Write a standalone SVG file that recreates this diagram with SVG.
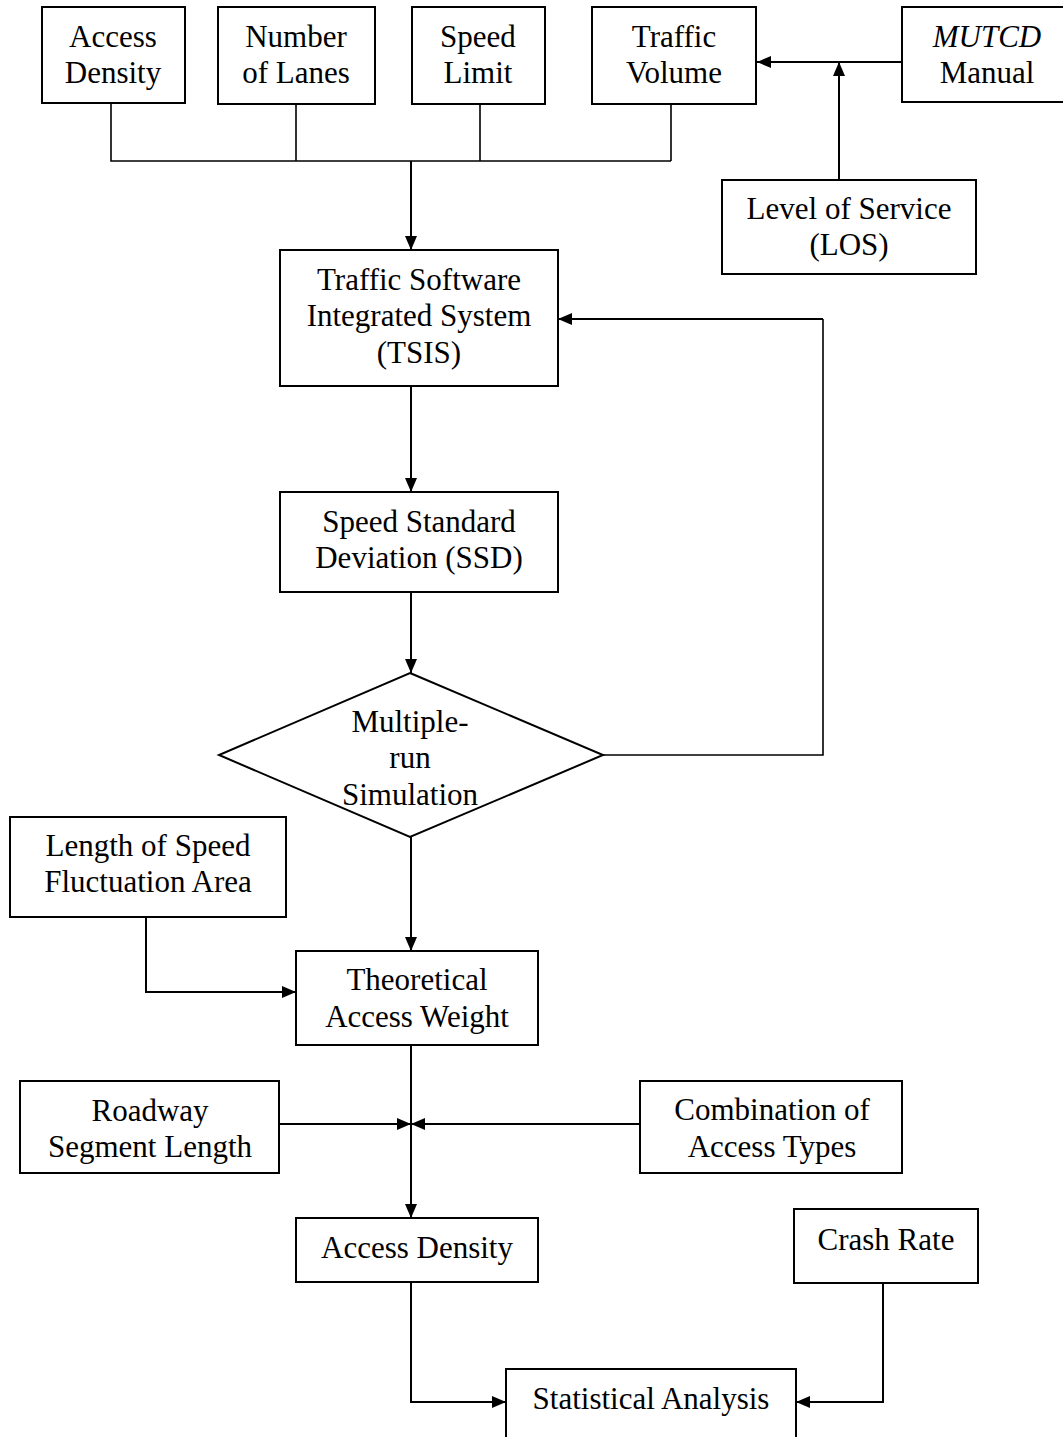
<svg xmlns="http://www.w3.org/2000/svg" width="1063" height="1437" viewBox="0 0 1063 1437">
<style>
.box{fill:#fff;stroke:#000;stroke-width:2}
.t{font-family:"Liberation Serif","Times New Roman",serif;font-size:31px;fill:#000;text-anchor:middle}
.it{font-style:italic}
.ln{fill:none;stroke:#000;stroke-width:1.6}
.ar{fill:none;stroke:#000;stroke-width:2;marker-end:url(#ah)}
</style>
<defs>
<marker id="ah" markerUnits="userSpaceOnUse" markerWidth="14" markerHeight="12" viewBox="0 0 14 12" refX="14" refY="6" orient="auto">
<path d="M0,0 L14,6 L0,12 z" fill="#000"/>
</marker>
</defs>
<rect width="1063" height="1437" fill="#fff"/>
<g id="connectors">
<path class="ln" d="M111,104 V161 H671 M296,104 V161 M480,104 V161 M671,104 V161"/>
<path class="ar" d="M411,161 V250"/>
<path class="ar" d="M902,62 H757"/>
<path class="ar" d="M839,180 V62"/>
<path class="ar" d="M411,386 V492"/>
<path class="ar" d="M411,592 V673"/>
<path class="ln" d="M603,755 H823 V319"/>
<path class="ar" d="M823,319 H558"/>
<path class="ar" d="M411,837 V951"/>
<path class="ar" d="M146,917 V992 H296"/>
<path class="ar" d="M411,1045 V1218"/>
<path class="ar" d="M279,1124 H411"/>
<path class="ar" d="M640,1124 H411"/>
<path class="ar" d="M411,1282 V1402 H506"/>
<path class="ar" d="M883,1284 V1402 H796"/>
</g>
<g id="n-access-density-top"><rect class="box" x="42" y="7" width="143" height="96"/><text class="t" x="113" y="47">Access</text><text class="t" x="113" y="83">Density</text></g>
<g id="n-lanes"><rect class="box" x="218" y="7" width="157" height="97"/><text class="t" x="296" y="47">Number</text><text class="t" x="296" y="83">of Lanes</text></g>
<g id="n-speed-limit"><rect class="box" x="412" y="7" width="133" height="97"/><text class="t" x="478" y="47">Speed</text><text class="t" x="478" y="83">Limit</text></g>
<g id="n-traffic-volume"><rect class="box" x="592" y="7" width="164" height="97"/><text class="t" x="674" y="47">Traffic</text><text class="t" x="674" y="83">Volume</text></g>
<g id="n-mutcd"><rect class="box" x="902" y="7" width="165" height="95"/><text class="t it" x="987" y="47">MUTCD</text><text class="t" x="987" y="83">Manual</text></g>
<g id="n-los"><rect class="box" x="722" y="180" width="254" height="94"/><text class="t" x="849" y="219">Level of Service</text><text class="t" x="849" y="255">(LOS)</text></g>
<g id="n-tsis"><rect class="box" x="280" y="250" width="278" height="136"/><text class="t" x="419" y="290">Traffic Software</text><text class="t" x="419" y="326">Integrated System</text><text class="t" x="419" y="363">(TSIS)</text></g>
<g id="n-ssd"><rect class="box" x="280" y="492" width="278" height="100"/><text class="t" x="419" y="532">Speed Standard</text><text class="t" x="419" y="568">Deviation (SSD)</text></g>
<g id="n-sim"><path class="box" d="M410,673 L603,755 L410,837 L219,755 Z"/><text class="t" x="410" y="732">Multiple-</text><text class="t" x="410" y="768">run</text><text class="t" x="410" y="805">Simulation</text></g>
<g id="n-length"><rect class="box" x="10" y="817" width="276" height="100"/><text class="t" x="148" y="856">Length of Speed</text><text class="t" x="148" y="892">Fluctuation Area</text></g>
<g id="n-weight"><rect class="box" x="296" y="951" width="242" height="94"/><text class="t" x="417" y="990">Theoretical</text><text class="t" x="417" y="1027">Access Weight</text></g>
<g id="n-roadway"><rect class="box" x="20" y="1081" width="259" height="92"/><text class="t" x="150" y="1121">Roadway</text><text class="t" x="150" y="1157">Segment Length</text></g>
<g id="n-combination"><rect class="box" x="640" y="1081" width="262" height="92"/><text class="t" x="772" y="1120">Combination of</text><text class="t" x="772" y="1157">Access Types</text></g>
<g id="n-access-density"><rect class="box" x="296" y="1218" width="242" height="64"/><text class="t" x="417" y="1258">Access Density</text></g>
<g id="n-crash"><rect class="box" x="794" y="1209" width="184" height="74"/><text class="t" x="886" y="1250">Crash Rate</text></g>
<g id="n-stat"><rect class="box" x="506" y="1369" width="290" height="75"/><text class="t" x="651" y="1409">Statistical Analysis</text></g>
</svg>
